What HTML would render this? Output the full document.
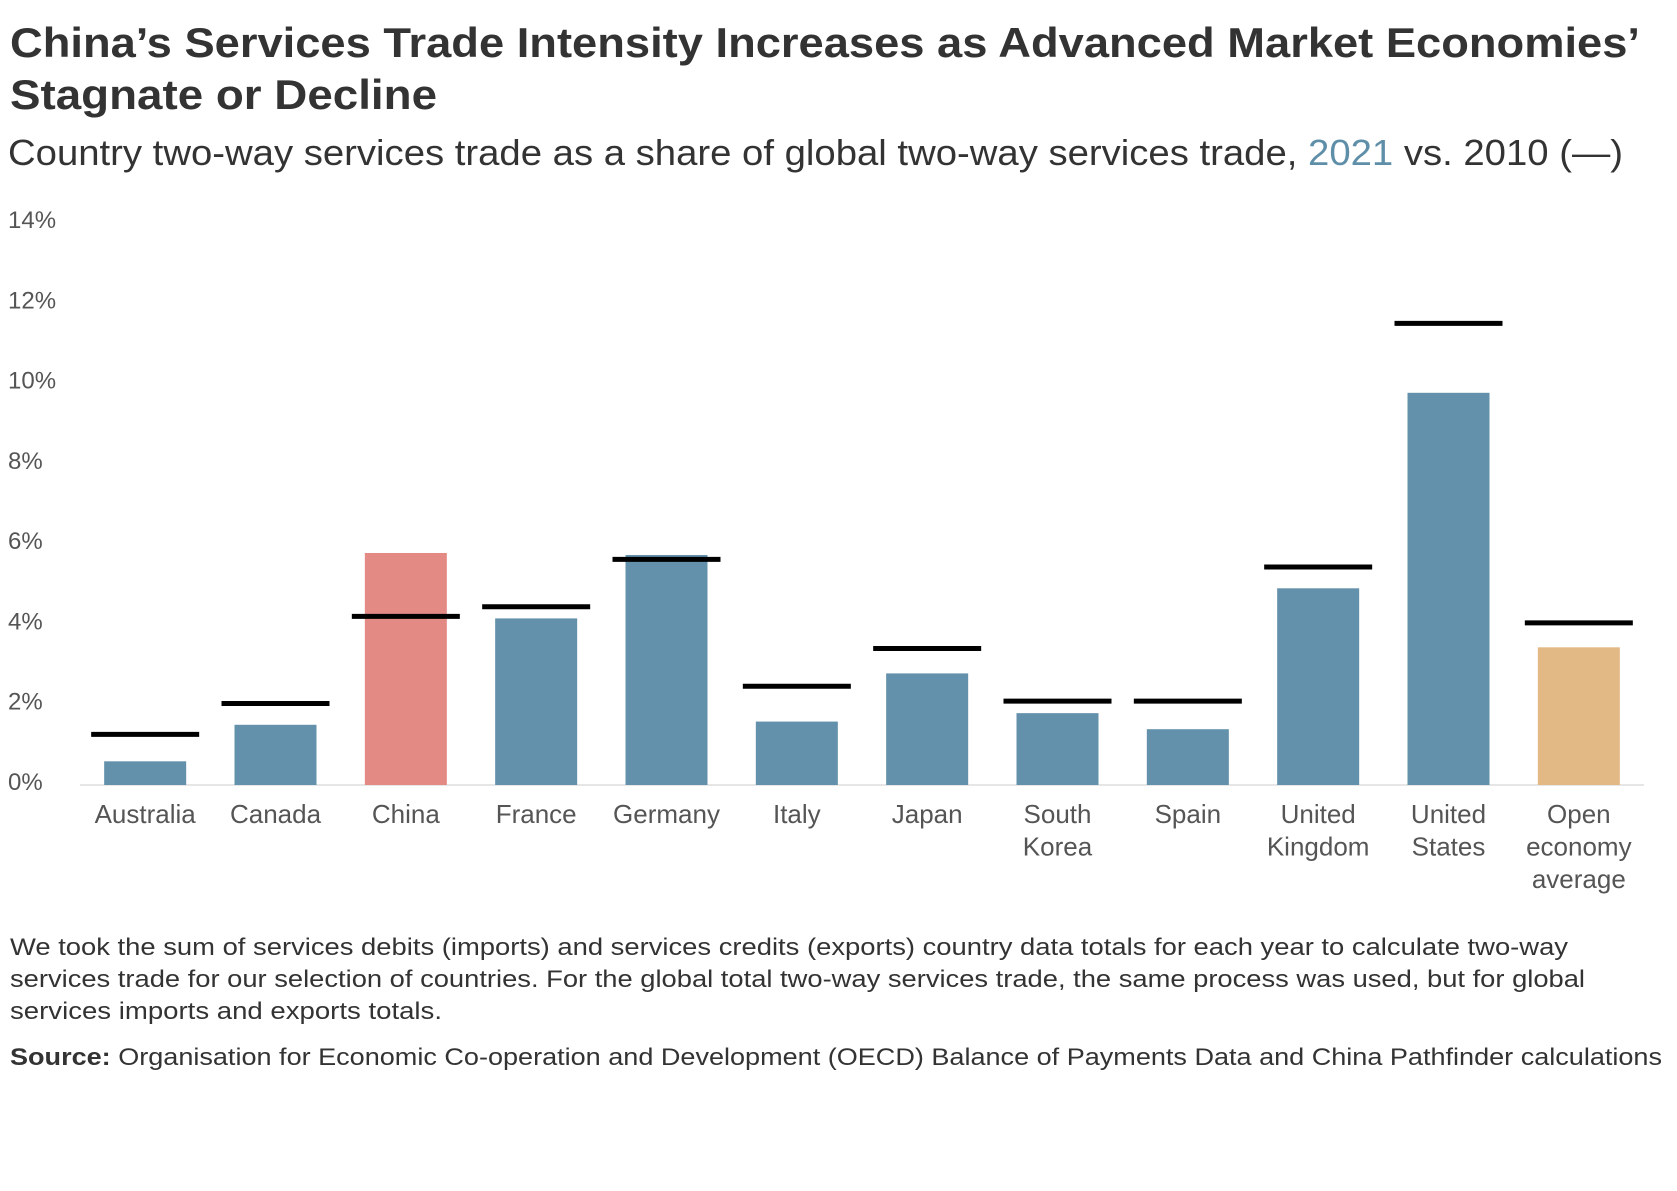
<!DOCTYPE html>
<html><head><meta charset="utf-8"><style>
body{margin:0;background:#fff}
svg{display:block;font-family:"Liberation Sans",sans-serif}
</style></head><body>
<svg id="chart" width="1677" height="1191" viewBox="0 0 1677 1191" xmlns="http://www.w3.org/2000/svg">
<text x="10" y="57" font-size="42" font-weight="bold" fill="#333" textLength="1630" lengthAdjust="spacingAndGlyphs">China’s Services Trade Intensity Increases as Advanced Market Economies’</text>
<text x="10" y="109" font-size="42" font-weight="bold" fill="#333" textLength="427" lengthAdjust="spacingAndGlyphs">Stagnate or Decline</text>
<text x="8" y="165" font-size="36" fill="#333" textLength="1615" lengthAdjust="spacingAndGlyphs">Country two-way services trade as a share of global two-way services trade, <tspan fill="#5f8fa8">2021</tspan> vs. 2010 (—)</text>
<g id="yaxis"></g>
<line x1="80" x2="1644" y1="785" y2="785" stroke="#ddd" stroke-width="1.5"/>
<g id="bars"></g>
<g id="xlabels"></g>
<g font-size="24" fill="#333">
<text x="10" y="955" textLength="1558" lengthAdjust="spacingAndGlyphs">We took the sum of services debits (imports) and services credits (exports) country data totals for each year to calculate two-way</text>
<text x="10" y="987" textLength="1575" lengthAdjust="spacingAndGlyphs">services trade for our selection of countries. For the global total two-way services trade, the same process was used, but for global</text>
<text x="10" y="1019" textLength="432" lengthAdjust="spacingAndGlyphs">services imports and exports totals.</text>
</g>
<text x="10" y="1065" font-size="24" fill="#333" textLength="1652" lengthAdjust="spacingAndGlyphs"><tspan font-weight="bold">Source:</tspan> Organisation for Economic Co-operation and Development (OECD) Balance of Payments Data and China Pathfinder calculations</text>
</svg>
<script>
const categories = [["Australia"],["Canada"],["China"],["France"],["Germany"],["Italy"],["Japan"],["South","Korea"],["Spain"],["United","Kingdom"],["United","States"],["Open","economy","average"]];
const values2021 = [0.59,1.5,5.78,4.15,5.73,1.58,2.78,1.79,1.39,4.9,9.77,3.43];
const values2010 = [1.26,2.03,4.2,4.44,5.62,2.46,3.4,2.09,2.09,5.43,11.5,4.04];
const yTicks = [0,2,4,6,8,10,12,14];
const NS="http://www.w3.org/2000/svg";
const x0=80,x1=1644,yBase=785,yTop=223,yMax=14;
const band=(x1-x0)/categories.length;
const y=v=>yBase-(v/yMax)*(yBase-yTop);
const xc=i=>x0+band*(i+0.5);
function mk(t,a,p){const e=document.createElementNS(NS,t);for(const k in a)e.setAttribute(k,a[k]);p.appendChild(e);return e;}
const ya=document.getElementById('yaxis');
yTicks.forEach(t=>{
  const e=mk('text',{x:8,y:y(t)+5,'font-size':24,fill:'#555'},ya);
  
  
  e.textContent=t+'%';
});
const bg=document.getElementById('bars');
values2021.forEach((v,i)=>{
  const col=i===2?'#e38a84':(i===11?'#e2b984':'#6391ab');
  const r=mk('rect',{x:xc(i)-41,y:y(v),width:82,height:yBase-y(v),fill:col},bg);
  
  
});
values2010.forEach((v,i)=>{
  const l=mk('line',{x1:xc(i)-54,x2:xc(i)+54,y1:y(v),y2:y(v),stroke:'#000','stroke-width':5},bg);
  
  
});
const xl=document.getElementById('xlabels');
categories.forEach((c,i)=>{
  c.forEach((s,j)=>{
    const e=mk('text',{x:xc(i),y:823+j*32.5,'font-size':26,fill:'#555','text-anchor':'middle'},xl);
    
    
    e.textContent=s;
  });
});
</script>
</body></html>
